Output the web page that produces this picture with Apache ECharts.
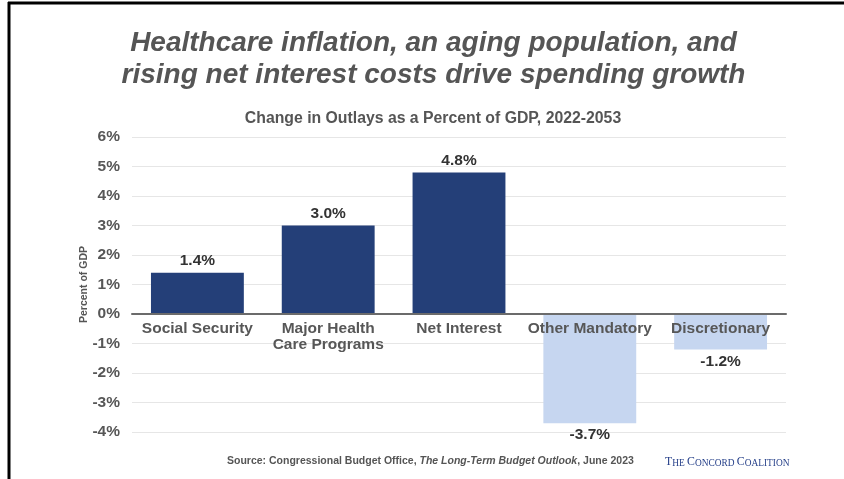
<!DOCTYPE html>
<html>
<head>
<meta charset="utf-8">
<script src="https://cdn.jsdelivr.net/npm/echarts@6/dist/echarts.min.js"></script>
<style>
  html, body { margin: 0; padding: 0; background: #ffffff; }
  #chart { width: 844px; height: 479px; }
</style>
</head>
<body>
<div id="chart"></div>
<script>
// Change in federal outlays, percent of GDP, 2022-2053
const categories = ['Social Security', 'Major Health\nCare Programs', 'Net Interest', 'Other Mandatory', 'Discretionary'];
const changeValues = [1.4, 3.0, 4.8, -3.7, -1.2];
const yTicks = [-4, -3, -2, -1, 0, 1, 2, 3, 4, 5, 6];

const NAVY = '#243f78';
const LIGHT = '#c6d6f0';
const LABEL_GREY = '#575757';
const sans = '"Liberation Sans", Arial, Helvetica, sans-serif';

const GRID_TOP = 137;
const GRID_BOTTOM = 47;
const CHART_H = 479;

const chart = echarts.init(document.getElementById('chart'), null, { renderer: 'canvas' });

// Category axis sits on the zero line: shift it up from the grid bottom
const yMin = yTicks[0];
const yMax = yTicks[yTicks.length - 1];
const plotH = CHART_H - GRID_TOP - GRID_BOTTOM;
const zeroOffset = plotH * (0 - yMin) / (yMax - yMin);

chart.setOption({
  backgroundColor: '#ffffff',
  animation: false,
  title: [
    {
      text: 'Healthcare inflation, an aging population, and\nrising net interest costs drive spending growth',
      left: 428.5, top: 22, textAlign: 'center',
      textStyle: {
        fontFamily: sans, fontSize: 28, fontWeight: 'bold', fontStyle: 'italic',
        color: '#555555', lineHeight: 32
      }
    },
    {
      text: 'Change in Outlays as a Percent of GDP, 2022-2053',
      left: 428, top: 106, textAlign: 'center',
      textStyle: { fontFamily: sans, fontSize: 15.8, fontWeight: 'bold', color: '#555555' }
    }
  ],
  grid: { left: 132, right: 58, top: GRID_TOP, bottom: GRID_BOTTOM, containLabel: false },
  xAxis: {
    type: 'category',
    data: categories,
    position: 'bottom',
    offset: -zeroOffset,
    z: 5,
    axisLine: { onZero: false, lineStyle: { color: '#6b6b6b', width: 2 } },
    axisTick: { show: false },
    axisLabel: {
      interval: 0, margin: 7,
      fontFamily: sans, fontSize: 15.5, fontWeight: 'bold', color: LABEL_GREY, lineHeight: 16
    }
  },
  yAxis: {
    type: 'value',
    min: yMin, max: yMax, interval: 1,
    name: 'Percent of GDP',
    nameLocation: 'middle',
    nameGap: 42,
    nameMoveOverlap: false,
    nameRotate: 90,
    nameTextStyle: { fontFamily: sans, fontSize: 10.5, fontWeight: 'bold', color: '#555555' },
    axisLine: { show: false },
    axisTick: { show: false },
    axisLabel: {
      margin: 12,
      fontFamily: sans, fontSize: 15.5, fontWeight: 'bold', color: LABEL_GREY,
      formatter: v => v + '%'
    },
    splitLine: { lineStyle: { color: '#e6e6e6', width: 1 } }
  },
  series: [{
    type: 'bar',
    barWidth: '71%',
    z: 2,
    data: changeValues.map(v => ({
      value: v,
      itemStyle: { color: v >= 0 ? NAVY : LIGHT },
      label: { position: v >= 0 ? 'top' : 'bottom' }
    })),
    label: {
      show: true, distance: 4,
      fontFamily: sans, fontSize: 15.5, fontWeight: 'bold', color: '#333333',
      formatter: p => p.value.toFixed(1) + '%'
    }
  }],
  graphic: [
    // frame lines
    { type: 'line', shape: { x1: 8, y1: 3, x2: 844, y2: 3 }, style: { stroke: '#000', lineWidth: 3 } },
    { type: 'line', shape: { x1: 9, y1: 2, x2: 9, y2: 479 }, style: { stroke: '#000', lineWidth: 3 } },
    // source note
    {
      type: 'text', left: 227, top: 456,
      style: {
        text: '{a|Source: Congressional Budget Office, }{b|The Long-Term Budget Outlook}{a|, June 2023}',
        rich: {
          a: { fontFamily: sans, fontSize: 10.5, fontWeight: 'bold', fill: '#555555' },
          b: { fontFamily: sans, fontSize: 10.5, fontWeight: 'bold', fontStyle: 'italic', fill: '#555555' }
        }
      }
    },
    {
      type: 'text', left: 665, top: 456,
      style: {
        text: '{l|T}{s|HE }{l|C}{s|ONCORD }{l|C}{s|OALITION}',
        rich: {
          l: { fontFamily: '"Liberation Serif", "DejaVu Serif", serif', fontSize: 11.8, fill: '#27418a', verticalAlign: 'bottom' },
          s: { fontFamily: '"Liberation Serif", "DejaVu Serif", serif', fontSize: 9.4, fill: '#27418a', verticalAlign: 'bottom' }
        }
      }
    }
  ]
});
</script>
</body>
</html>
